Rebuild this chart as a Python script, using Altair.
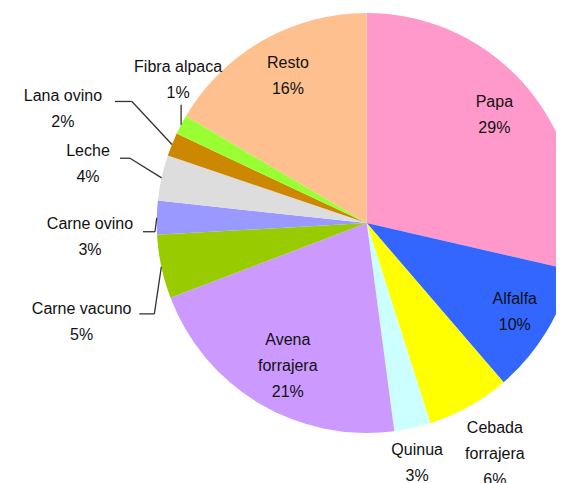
import altair as alt
import pandas as pd

# ---------------- data ----------------
CATEGORIES = ["Papa", "Alfalfa", "Cebada forrajera", "Quinua", "Avena forrajera",
              "Carne vacuno", "Carne ovino", "Leche", "Lana ovino", "Fibra alpaca", "Resto"]
VALUES = [28.6, 10.1, 6.4, 2.8, 21.3, 4.9, 2.6, 3.5, 1.8, 1.5, 16.5]
PCT_LABELS = ["29%", "10%", "6%", "3%", "21%", "5%", "3%", "4%", "2%", "1%", "16%"]
DISPLAY_NAMES = ["Papa", "Alfalfa", "Cebada\nforrajera", "Quinua", "Avena\nforrajera",
                 "Carne vacuno", "Carne ovino", "Leche", "Lana ovino", "Fibra alpaca", "Resto"]
COLORS = ["#FF99CC", "#3366FF", "#FFFF00", "#CCFFFF", "#CC99FF",
          "#99CC00", "#9999FF", "#DDDDDD", "#CC8800", "#99FF33", "#FFC090"]

# ---------------- layout ----------------
W, H = 548, 475
CX, CY, R = 358.7, 215, 210
FONT = "Arial, Liberation Sans, sans-serif"
FS = 16
LH = 26

# labels placed along the slice's mid-angle: (category, radius, dx, dy of block centre, lines)
SLICE_LABELS = [
    ("Papa", 167, -3, -4, 2),
    ("Resto", 167, 4, -2, 2),
    ("Alfalfa", 173, 0, 0, 2),
    ("Avena forrajera", 164, 5, 2, 3),
    ("Cebada forrajera", 263, 0, 1, 3),
    ("Quinua", 245, -3, 1, 2),
]

# leader-line layout (offsets in px relative to the slice's outer edge midpoint)
LEADER_LAYOUT = pd.DataFrame({
    "cat": ["Fibra alpaca", "Lana ovino", "Leche", "Carne ovino", "Carne vacuno"],
    "ex": [0, -40, -31.6, -1.8, -7],
    "ey": [-20, -43, -19.6, 14, 47],
    "hx": [0, -17, -10, -12, -15],
    "tx": [-3, -109, -73.6, -66.8, -79.7],
    "ty": [-45, -35, -14, 19, 54.7],
})

df = pd.DataFrame({
    "cat": CATEGORIES,
    "value": VALUES,
    "name": DISPLAY_NAMES,
    "pct": PCT_LABELS,
    "idx": list(range(len(CATEGORIES))),
})
df["label"] = df["name"] + "\n" + df["pct"]

base = alt.Chart(df).encode(
    theta=alt.Theta("value:Q", stack=True),
    order=alt.Order("idx:Q"),
)

arcs = base.mark_arc(outerRadius=R).encode(
    color=alt.Color("cat:N", scale=alt.Scale(domain=CATEGORIES, range=COLORS), legend=None),
    x=alt.value(CX),
    y=alt.value(CY),
)

text_style = dict(font=FONT, fontSize=FS, lineHeight=LH, lineBreak="\n",
                  align="center", baseline="middle", color="#111111")

label_layers = []
for cat, rad, ddx, ddy, nlines in SLICE_LABELS:
    label_layers.append(
        base.transform_calculate(
            t=f"datum.cat == '{cat}' ? datum.label : ''"
        ).mark_text(
            radius=rad, dx=ddx, dy=ddy - (nlines - 1) * LH / 2, **text_style
        ).encode(
            text="t:N", detail="cat:N", x=alt.value(CX), y=alt.value(CY)
        )
    )

# leader lines and outer labels
lead = alt.Chart(df).transform_joinaggregate(
    total="sum(value)"
).transform_window(
    cum="sum(value)", sort=[alt.SortField("idx")], frame=[None, 0]
).transform_calculate(
    mid="(datum.cum - datum.value / 2) / datum.total * 2 * PI"
).transform_calculate(
    px=f"{CX} + {R} * sin(datum.mid)",
    py=f"{CY} - {R} * cos(datum.mid)",
).transform_lookup(
    lookup="cat",
    from_=alt.LookupData(LEADER_LAYOUT, "cat", ["ex", "ey", "hx", "tx", "ty"]),
).transform_filter(
    "isValid(datum.ex)"
).transform_calculate(
    bx="datum.px + datum.ex",
    by="datum.py + datum.ey",
    hx2="datum.px + datum.ex + datum.hx",
    lx="datum.px + datum.tx",
    ly="datum.py + datum.ty",
)

seg1 = lead.mark_rule(color="#333333", strokeWidth=1.3).encode(
    x=alt.X("px:Q", scale=None, axis=None),
    y=alt.Y("py:Q", scale=None, axis=None),
    x2="bx:Q",
    y2="by:Q",
)
seg2 = lead.mark_rule(color="#333333", strokeWidth=1.3).encode(
    x=alt.X("bx:Q", scale=None, axis=None),
    y=alt.Y("by:Q", scale=None, axis=None),
    x2="hx2:Q",
)
outer_text = lead.mark_text(dy=-LH / 2, **text_style).encode(
    x=alt.X("lx:Q", scale=None, axis=None),
    y=alt.Y("ly:Q", scale=None, axis=None),
    text="label:N",
)

chart = alt.layer(
    arcs, *label_layers, seg1, seg2, outer_text
).properties(
    width=W, height=H, padding=0,
    autosize=alt.AutoSizeParams(type="none"),
    background="white",
).configure_view(stroke=None)

chart.save("out.html", embed_options={"renderer": "svg", "actions": False})
